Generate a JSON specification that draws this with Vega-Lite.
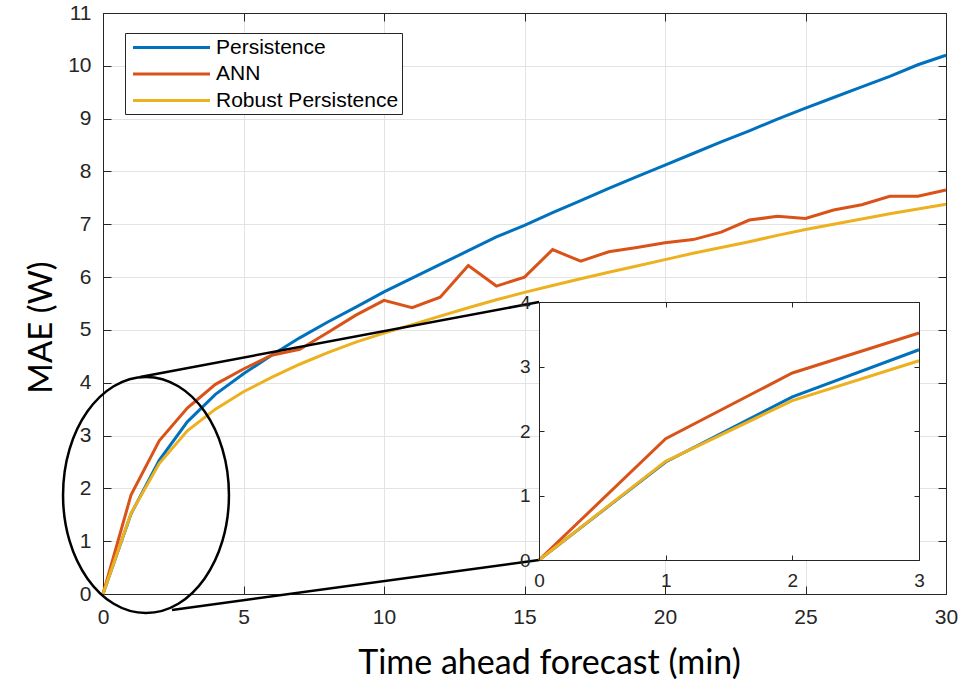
{
  "$schema": "https://vega.github.io/schema/vega-lite/v6.json",
  "width": 843,
  "height": 581,
  "autosize": "none",
  "padding": {"left": 103, "top": 13, "right": 32, "bottom": 90},
  "background": "white",
  "config": {"view": {"stroke": null}, "font": "Liberation Sans"},
  "datasets": {
    "mae": [
      {"minute":0,"model":"Persistence","mae":0},{"minute":1,"model":"Persistence","mae":1.52},{"minute":2,"model":"Persistence","mae":2.53},{"minute":3,"model":"Persistence","mae":3.26},{"minute":4,"model":"Persistence","mae":3.78},{"minute":5,"model":"Persistence","mae":4.17},{"minute":6,"model":"Persistence","mae":4.52},{"minute":7,"model":"Persistence","mae":4.85},{"minute":8,"model":"Persistence","mae":5.15},{"minute":9,"model":"Persistence","mae":5.43},{"minute":10,"model":"Persistence","mae":5.72},{"minute":11,"model":"Persistence","mae":5.98},{"minute":12,"model":"Persistence","mae":6.24},{"minute":13,"model":"Persistence","mae":6.5},{"minute":14,"model":"Persistence","mae":6.76},{"minute":15,"model":"Persistence","mae":6.98},{"minute":16,"model":"Persistence","mae":7.22},{"minute":17,"model":"Persistence","mae":7.45},{"minute":18,"model":"Persistence","mae":7.68},{"minute":19,"model":"Persistence","mae":7.9},{"minute":20,"model":"Persistence","mae":8.12},{"minute":21,"model":"Persistence","mae":8.34},{"minute":22,"model":"Persistence","mae":8.56},{"minute":23,"model":"Persistence","mae":8.77},{"minute":24,"model":"Persistence","mae":8.99},{"minute":25,"model":"Persistence","mae":9.2},{"minute":26,"model":"Persistence","mae":9.4},{"minute":27,"model":"Persistence","mae":9.6},{"minute":28,"model":"Persistence","mae":9.8},{"minute":29,"model":"Persistence","mae":10.02},{"minute":30,"model":"Persistence","mae":10.2},
      {"minute":0,"model":"ANN","mae":0},{"minute":1,"model":"ANN","mae":1.88},{"minute":2,"model":"ANN","mae":2.9},{"minute":3,"model":"ANN","mae":3.52},{"minute":4,"model":"ANN","mae":3.97},{"minute":5,"model":"ANN","mae":4.26},{"minute":6,"model":"ANN","mae":4.52},{"minute":7,"model":"ANN","mae":4.63},{"minute":8,"model":"ANN","mae":4.95},{"minute":9,"model":"ANN","mae":5.28},{"minute":10,"model":"ANN","mae":5.56},{"minute":11,"model":"ANN","mae":5.42},{"minute":12,"model":"ANN","mae":5.62},{"minute":13,"model":"ANN","mae":6.22},{"minute":14,"model":"ANN","mae":5.83},{"minute":15,"model":"ANN","mae":6.0},{"minute":16,"model":"ANN","mae":6.52},{"minute":17,"model":"ANN","mae":6.3},{"minute":18,"model":"ANN","mae":6.48},{"minute":19,"model":"ANN","mae":6.56},{"minute":20,"model":"ANN","mae":6.65},{"minute":21,"model":"ANN","mae":6.71},{"minute":22,"model":"ANN","mae":6.85},{"minute":23,"model":"ANN","mae":7.08},{"minute":24,"model":"ANN","mae":7.15},{"minute":25,"model":"ANN","mae":7.11},{"minute":26,"model":"ANN","mae":7.27},{"minute":27,"model":"ANN","mae":7.37},{"minute":28,"model":"ANN","mae":7.53},{"minute":29,"model":"ANN","mae":7.53},{"minute":30,"model":"ANN","mae":7.65},
      {"minute":0,"model":"Robust Persistence","mae":0},{"minute":1,"model":"Robust Persistence","mae":1.53},{"minute":2,"model":"Robust Persistence","mae":2.47},{"minute":3,"model":"Robust Persistence","mae":3.09},{"minute":4,"model":"Robust Persistence","mae":3.5},{"minute":5,"model":"Robust Persistence","mae":3.83},{"minute":6,"model":"Robust Persistence","mae":4.1},{"minute":7,"model":"Robust Persistence","mae":4.35},{"minute":8,"model":"Robust Persistence","mae":4.57},{"minute":9,"model":"Robust Persistence","mae":4.77},{"minute":10,"model":"Robust Persistence","mae":4.94},{"minute":11,"model":"Robust Persistence","mae":5.1},{"minute":12,"model":"Robust Persistence","mae":5.26},{"minute":13,"model":"Robust Persistence","mae":5.42},{"minute":14,"model":"Robust Persistence","mae":5.57},{"minute":15,"model":"Robust Persistence","mae":5.71},{"minute":16,"model":"Robust Persistence","mae":5.84},{"minute":17,"model":"Robust Persistence","mae":5.97},{"minute":18,"model":"Robust Persistence","mae":6.09},{"minute":19,"model":"Robust Persistence","mae":6.21},{"minute":20,"model":"Robust Persistence","mae":6.33},{"minute":21,"model":"Robust Persistence","mae":6.45},{"minute":22,"model":"Robust Persistence","mae":6.56},{"minute":23,"model":"Robust Persistence","mae":6.67},{"minute":24,"model":"Robust Persistence","mae":6.79},{"minute":25,"model":"Robust Persistence","mae":6.9},{"minute":26,"model":"Robust Persistence","mae":7.0},{"minute":27,"model":"Robust Persistence","mae":7.1},{"minute":28,"model":"Robust Persistence","mae":7.2},{"minute":29,"model":"Robust Persistence","mae":7.29},{"minute":30,"model":"Robust Persistence","mae":7.38}
    ]
  },
  "layer": [
    {
      "layer": [
        {
          "data": {"name": "mae"},
          "mark": {"type": "line", "strokeWidth": 3},
          "encoding": {
            "x": {"field": "minute", "type": "quantitative",
              "scale": {"domain": [0, 30], "nice": false, "zero": false},
              "axis": {"orient": "bottom", "values": [0,5,10,15,20,25,30], "tickSize": -8, "labelPadding": 20,
                "labelFontSize": 21, "labelColor": "#262626", "labelFlush": false, "labelOverlap": false, "labelBound": false,
                "domainColor": "#262626", "tickColor": "#262626", "grid": true, "gridColor": "#e3e3e3",
                "title": "Time ahead forecast (min)", "titleFont": "Lato", "titleFontSize": 34, "titleFontWeight": "normal",
                "titleColor": "black", "titleX": 446, "titleY": 79, "titleAlign": "center", "titleBaseline": "alphabetic"}},
            "y": {"field": "mae", "type": "quantitative",
              "scale": {"domain": [0, 11], "nice": false, "zero": false},
              "axis": {"orient": "left", "values": [0,1,2,3,4,5,6,7,8,9,10,11], "tickSize": -8, "labelPadding": 20,
                "labelFontSize": 21, "labelColor": "#262626", "labelFlush": false, "labelOverlap": false, "labelBound": false,
                "domainColor": "#262626", "tickColor": "#262626", "grid": true, "gridColor": "#e3e3e3",
                "title": "MAE (W)", "titleFont": "Lato", "titleFontSize": 33, "titleFontWeight": "normal",
                "titleColor": "black", "titleX": -52, "titleY": 314, "titleAngle": -90, "titleAlign": "center", "titleBaseline": "alphabetic"}},
            "color": {"field": "model", "type": "nominal",
              "scale": {"domain": ["Persistence", "ANN", "Robust Persistence"], "range": ["#0072BD", "#D95319", "#EDB120"]},
              "legend": {"orient": "none", "legendX": 22, "legendY": 20, "direction": "vertical", "title": null,
                "fillColor": "white", "strokeColor": "#262626", "padding": 3,
                "symbolType": "M -3.85 0 L 3.85 0", "symbolSize": 400, "symbolStrokeWidth": 3, "symbolOffset": 32,
                "labelFontSize": 21, "labelFont": "Liberation Sans", "labelColor": "black", "labelOffset": 33,
                "rowPadding": 4.5, "labelLimit": 400}}
          }
        },
        {
          "data": {"name": "mae"},
          "mark": {"type": "point", "opacity": 0},
          "encoding": {
            "x": {"field": "minute", "type": "quantitative",
              "scale": {"domain": [0, 30], "nice": false, "zero": false},
              "axis": {"orient": "top", "values": [0,5,10,15,20,25,30], "tickSize": -8, "labels": false, "grid": false,
                "domainColor": "#262626", "tickColor": "#262626", "title": null}},
            "y": {"field": "mae", "type": "quantitative",
              "scale": {"domain": [0, 11], "nice": false, "zero": false},
              "axis": {"orient": "right", "values": [0,1,2,3,4,5,6,7,8,9,10,11], "tickSize": -8, "labels": false, "grid": false,
                "domainColor": "#262626", "tickColor": "#262626", "title": null}}
          }
        },
        {
          "data": {"values": [{"cx": 1.53, "cy": 1.874}]},
          "mark": {"type": "point", "shape": "M -0.703 0 A 0.703 1 0 1 1 0.703 0 A 0.703 1 0 1 1 -0.703 0 Z",
            "size": 55696, "filled": false, "stroke": "black", "strokeWidth": 2.5, "opacity": 1},
          "encoding": {
            "x": {"field": "cx", "type": "quantitative", "axis": null},
            "y": {"field": "cy", "type": "quantitative", "axis": null}
          }
        },
        {
          "data": {"values": [
            {"x1": 1.317, "y1": 4.108, "x2": 15.52, "y2": 5.528},
            {"x1": 2.456, "y1": -0.303, "x2": 15.52, "y2": 0.644}
          ]},
          "mark": {"type": "rule", "stroke": "black", "strokeWidth": 2.5},
          "encoding": {
            "x": {"field": "x1", "type": "quantitative", "axis": null},
            "y": {"field": "y1", "type": "quantitative", "axis": null},
            "x2": {"field": "x2"},
            "y2": {"field": "y2"}
          }
        }
      ],
      "resolve": {"axis": {"x": "independent", "y": "independent"}}
    },
    {
      "layer": [
        {
          "data": {"values": [{"a": 1}]},
          "mark": {"type": "rect", "fill": "white"},
          "encoding": {
            "x": {"datum": 0, "type": "quantitative", "scale": {"domain": [0, 3], "range": [436, 816], "nice": false, "zero": false}, "axis": null},
            "x2": {"datum": 3},
            "y": {"datum": 0, "type": "quantitative", "scale": {"domain": [0, 4], "range": [547, 289], "nice": false, "zero": false}, "axis": null},
            "y2": {"datum": 4}
          }
        },
        {
          "data": {"name": "mae"},
          "transform": [{"filter": "datum.minute <= 3"}],
          "mark": {"type": "line", "strokeWidth": 3},
          "encoding": {
            "x": {"field": "minute", "type": "quantitative",
              "scale": {"domain": [0, 3], "range": [436, 816], "nice": false, "zero": false},
              "axis": {"orient": "bottom", "offset": -34, "zindex": 2, "values": [0,1,2,3], "tickSize": -5, "labelPadding": 16,
                "labelFontSize": 19, "labelColor": "#262626", "labelFlush": false, "labelOverlap": false, "labelBound": false,
                "domainColor": "#262626", "tickColor": "#262626", "grid": false, "title": null}},
            "y": {"field": "mae", "type": "quantitative",
              "scale": {"domain": [0, 4], "range": [547, 289], "nice": false, "zero": false},
              "axis": {"orient": "left", "offset": -436, "zindex": 2, "values": [0,1,2,3,4], "tickSize": -5, "labelPadding": 14,
                "labelFontSize": 19, "labelColor": "#262626", "labelFlush": false, "labelOverlap": false, "labelBound": false,
                "domainColor": "#262626", "tickColor": "#262626", "grid": false, "title": null}},
            "color": {"field": "model", "type": "nominal",
              "scale": {"domain": ["Persistence", "ANN", "Robust Persistence"], "range": ["#0072BD", "#D95319", "#EDB120"]},
              "legend": {"orient": "none", "legendX": 22, "legendY": 20, "direction": "vertical", "title": null,
                "fillColor": "white", "strokeColor": "#262626", "padding": 3,
                "symbolType": "M -3.85 0 L 3.85 0", "symbolSize": 400, "symbolStrokeWidth": 3, "symbolOffset": 32,
                "labelFontSize": 21, "labelFont": "Liberation Sans", "labelColor": "black", "labelOffset": 33,
                "rowPadding": 4.5, "labelLimit": 400}}
          }
        },
        {
          "data": {"name": "mae"},
          "transform": [{"filter": "datum.minute <= 3"}],
          "mark": {"type": "point", "opacity": 0},
          "encoding": {
            "x": {"field": "minute", "type": "quantitative",
              "scale": {"domain": [0, 3], "range": [436, 816], "nice": false, "zero": false},
              "axis": {"orient": "top", "offset": -289, "zindex": 2, "values": [0,1,2,3], "tickSize": -5, "labels": false, "grid": false,
                "domainColor": "#262626", "tickColor": "#262626", "title": null}},
            "y": {"field": "mae", "type": "quantitative",
              "scale": {"domain": [0, 4], "range": [547, 289], "nice": false, "zero": false},
              "axis": {"orient": "right", "offset": -27, "zindex": 2, "values": [0,1,2,3,4], "tickSize": -5, "labels": false, "grid": false,
                "domainColor": "#262626", "tickColor": "#262626", "title": null}}
          }
        }
      ],
      "resolve": {"axis": {"x": "independent", "y": "independent"}}
    }
  ],
  "resolve": {"scale": {"x": "independent", "y": "independent"}}
}
